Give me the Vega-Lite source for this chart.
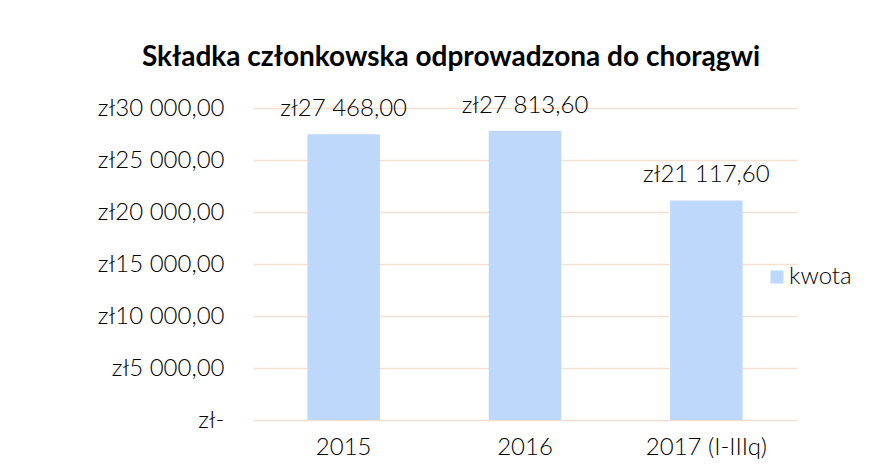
{
  "$schema": "https://vega.github.io/schema/vega-lite/v6.json",
  "autosize": "none",
  "width": 544,
  "height": 312,
  "padding": {"left": 253, "top": 108, "right": 80, "bottom": 47},
  "background": "white",
  "config": {
    "locale": {"number": {"decimal": ",", "thousands": " ", "grouping": [3], "currency": ["zł", ""]}},
    "font": "Lato",
    "view": {"stroke": null}
  },
  "title": {
    "text": "Składka członkowska odprowadzona do chorągwi",
    "font": "Lato",
    "fontSize": 28,
    "fontWeight": "bold",
    "color": "#000000",
    "anchor": "middle",
    "frame": "group",
    "dx": -74,
    "offset": 22
  },
  "data": {
    "values": [
      {"rok": "2015", "kwota": 27468.00, "seria": "kwota"},
      {"rok": "2016", "kwota": 27813.60, "seria": "kwota"},
      {"rok": "2017 (I-IIIq)", "kwota": 21117.60, "seria": "kwota"}
    ]
  },
  "encoding": {
    "x": {
      "field": "rok",
      "type": "nominal",
      "sort": null,
      "scale": {"paddingInner": 0.6, "paddingOuter": 0.3},
      "axis": {
        "title": null,
        "labelAngle": 0,
        "domain": false,
        "ticks": false,
        "labelFont": "Lato",
        "labelFontSize": 24,
        "labelFontWeight": 300,
        "labelColor": "#000000",
        "labelPadding": 15
      }
    },
    "y": {
      "field": "kwota",
      "type": "quantitative",
      "scale": {"domain": [0, 30000], "nice": false},
      "axis": {
        "title": null,
        "values": [0, 5000, 10000, 15000, 20000, 25000, 30000],
        "format": "$,.2f",
        "labelExpr": "datum.value === 0 ? 'zł-' : datum.label",
        "domain": false,
        "ticks": false,
        "grid": true,
        "gridColor": "#F8DFCF",
        "gridWidth": 1.5,
        "labelFont": "Lato",
        "labelFontSize": 24,
        "labelFontWeight": 300,
        "labelColor": "#000000",
        "labelPadding": 29
      }
    }
  },
  "layer": [
    {
      "mark": {"type": "bar"},
      "encoding": {
        "color": {
          "field": "seria",
          "type": "nominal",
          "scale": {"range": ["#BED8FB"]},
          "legend": {
            "title": null,
            "orient": "none",
            "legendX": 512,
            "legendY": 157,
            "symbolType": "square",
            "symbolSize": 169,
            "symbolStrokeWidth": 0,
            "labelFont": "Lato",
            "labelFontSize": 24,
            "labelFontWeight": 300,
            "labelColor": "#000000",
            "labelOffset": 0
          }
        }
      }
    },
    {
      "mark": {"type": "text", "baseline": "alphabetic", "dy": -18, "font": "Lato", "fontSize": 24, "fontWeight": 300, "color": "#000000"},
      "encoding": {
        "text": {"field": "kwota", "type": "quantitative", "format": "$,.2f"}
      }
    }
  ]
}
